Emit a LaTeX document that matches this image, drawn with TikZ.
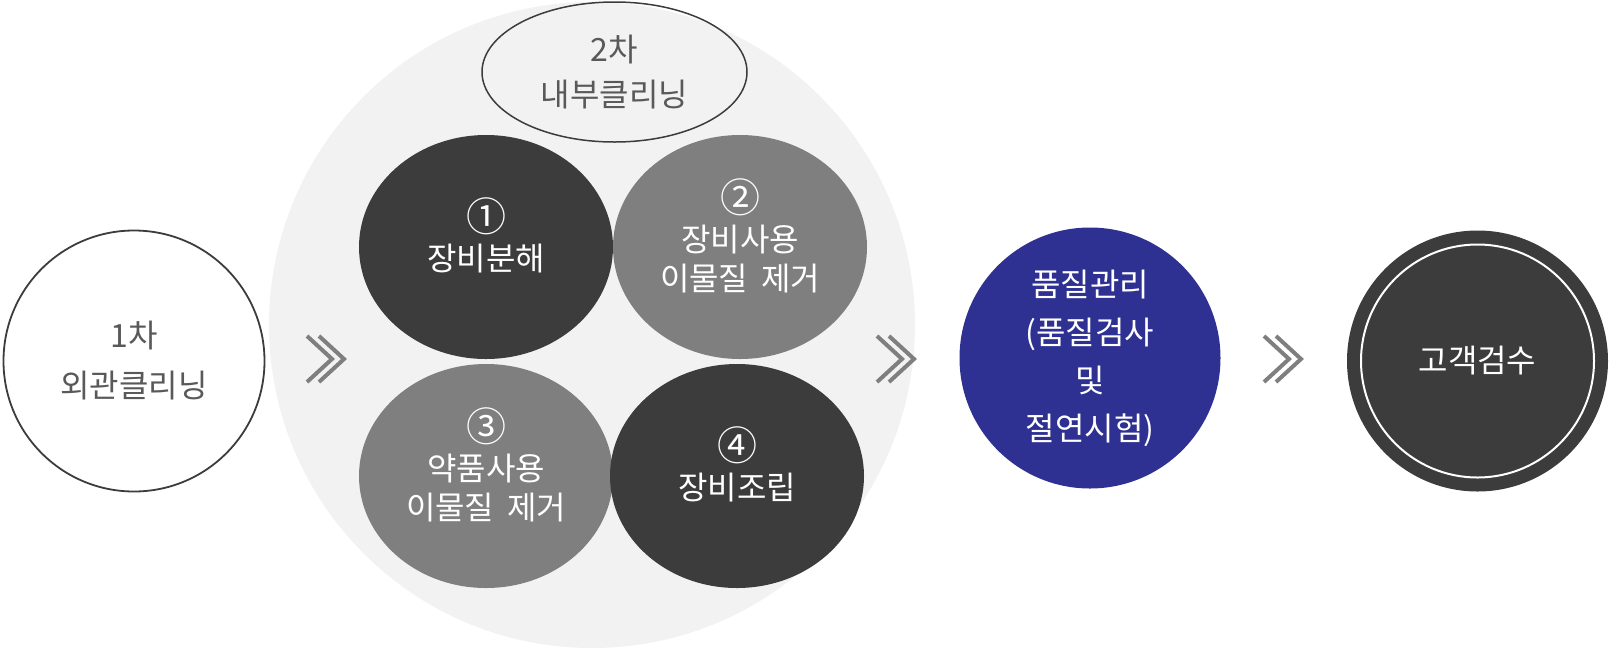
\documentclass[tikz,border=0pt]{standalone}
\usepackage{fontspec}
\setmainfont{Noto Sans CJK KR}
\usetikzlibrary{positioning,calc,shapes.geometric}
\definecolor{dark}{HTML}{3C3C3C}
\definecolor{mid}{HTML}{7F7F7F}
\definecolor{pale}{HTML}{F2F2F2}
\definecolor{navy}{HTML}{2E3192}
\definecolor{txt}{HTML}{595959}
\setlength{\lineskiplimit}{-100pt}
\newcommand{\num}[1]{\scalebox{1.25}{#1}}
\tikzset{
  stage/.style={circle,minimum size=261pt,inner sep=0pt,align=center,font=\fontsize{32}{50}\selectfont},
  task/.style={ellipse,minimum width=254pt,minimum height=224pt,inner sep=0pt,align=center,text=white,text depth=25pt,font=\fontsize{32}{39}\selectfont},
  chev/.style={draw=mid,line width=4pt},
  dbl/.pic={
    \draw[chev] (-25,-23) -- (0,0) -- (-25,23);
    \draw[chev] (-13,-23) -- (12,0) -- (-13,23);
  }
}

\begin{document}
\begin{tikzpicture}[x=1pt,y=-1pt]
  \useasboundingbox (0,0) rectangle (1610,649);
  \node[stage,draw=dark,line width=1.8pt,fill=white,text=txt] (outer) at (134,361) {1차\\외관클리닝};
  \node[circle,fill=pale,minimum size=646pt,inner sep=0pt] (wash) at (592,325) {};
  \node[task,fill=dark] (s1) at (486,247) {\num{①}\\장비분해};
  \node[task,fill=mid] (s2) at (740,247) {\num{②}\\장비사용\\이물질\hspace{0.4em}제거};
  \node[task,fill=mid] (s3) at (486,476) {\num{③}\\약품사용\\이물질\hspace{0.4em}제거};
  \node[task,fill=dark] (s4) at (737,476) {\num{④}\\장비조립};
  \node[ellipse,draw=dark,line width=1.5pt,minimum width=265pt,minimum height=140pt,inner sep=0pt,align=center,text=txt,font=\fontsize{32}{45}\selectfont] (title) at (614.5,72) {2차\\내부클리닝};
  \node[stage,fill=navy,text=white,font=\fontsize{32}{48}\selectfont] (qc) at (1090,358) {품질관리\\(품질검사\\및\\절연시험)};
  \node[stage,fill=dark,text=white] (check) at (1477.5,361) {고객검수};
  \draw[white,line width=2pt] (check.center) circle (116.5);
  \pic at (332,359) {dbl};
  \pic at (902,359) {dbl};
  \pic at (1289,359) {dbl};
\end{tikzpicture}
\end{document}
